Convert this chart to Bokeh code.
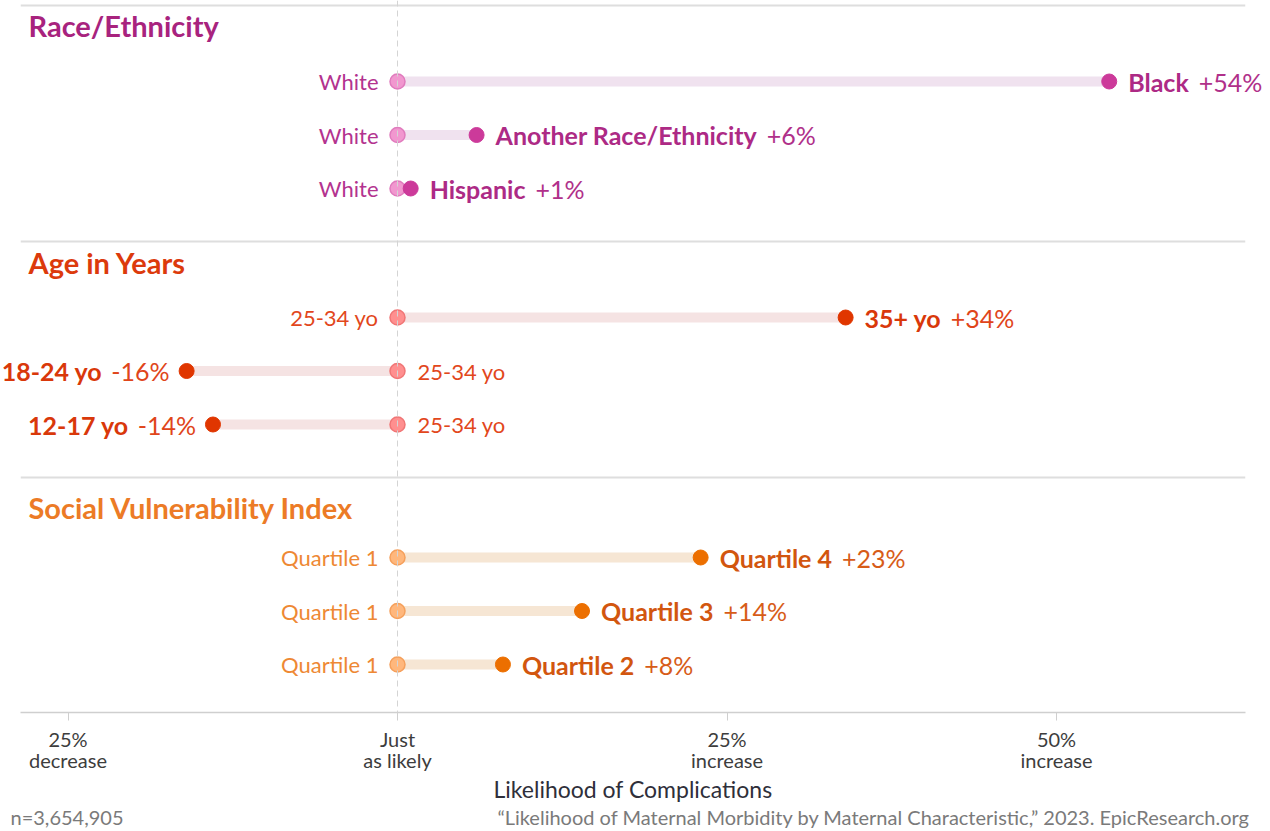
import glob
import subprocess

from bokeh.core.properties import value
from bokeh.embed import file_html
from bokeh.models import ColumnDataSource, FixedTicker, Label, Range1d, Span
from bokeh.plotting import figure
from bokeh.resources import INLINE

# ---------------- data ----------------
sections = ["Race/Ethnicity", "Age in Years", "Social Vulnerability Index"]

race_groups = ["Black", "Another Race/Ethnicity", "Hispanic"]
race_reference = ["White", "White", "White"]
race_change = [54, 6, 1]

age_groups = ["35+ yo", "18-24 yo", "12-17 yo"]
age_reference = ["25-34 yo", "25-34 yo", "25-34 yo"]
age_change = [34, -16, -14]

svi_groups = ["Quartile 4", "Quartile 3", "Quartile 2"]
svi_reference = ["Quartile 1", "Quartile 1", "Quartile 1"]
svi_change = [23, 14, 8]

tick_values = [-25, 0, 25, 50]
tick_labels = ["25%\ndecrease", "Just\nas likely", "25%\nincrease", "50%\nincrease"]

x_axis_title = "Likelihood of Complications"
note_left = "n=3,654,905"
note_right = "\u201cLikelihood of Maternal Morbidity by Maternal Characteristic,\u201d 2023. EpicResearch.org"

# ---------------- styles ----------------
palettes = [
    dict(title="#a8237e", ref="#b3338f", name="#ad2a85", val="#b0308a",
         start_fill="#f197cf", start_line="#e07bbd", end="#cc3a9a", bar="#f0e2ef"),
    dict(title="#dc3a0c", ref="#e2471c", name="#d9380a", val="#e0451a",
         start_fill="#ff8f8f", start_line="#f07676", end="#e03600", bar="#f5e3e3"),
    dict(title="#ec7b26", ref="#ee8834", name="#d2560f", val="#d75c18",
         start_fill="#ffb77c", start_line="#f5a05c", end="#ec6f00", bar="#f6e6d4"),
]
FONT = "Lato"
REF_SIZE = 22
NAME_SIZE = 25
TITLE_SIZE = 29
NOTE_SIZE = 20
DOT_GAP = 19
NAME_GAP = 10

W, H = 1266, 830
BORDER_L, BORDER_R, BORDER_T = 20, 21, 0
Y_TOP, Y_BOTTOM = 0, 712
BORDER_B = H - (Y_BOTTOM - Y_TOP)
FRAME_W = W - BORDER_L - BORDER_R
PX_PER_UNIT = 13.18
X0_PX = 377  # position of zero from frame left
x_start = -X0_PX / PX_PER_UNIT
x_end = x_start + FRAME_W / PX_PER_UNIT

# vertical layout (pixel-like units from top of page)
SECTION_H = 236
SECTION_TOP = 5
TITLE_OFF = [20, 21, 30]
ROW_OFF = [76, 76, 80]
ROW_STEP = 53.5
NOTE_Y = 816


def find_font(bold):
    name = "Lato:bold" if bold else "Lato:regular"
    try:
        out = subprocess.run(["fc-match", "-f", "%{file}", name],
                             capture_output=True, text=True, timeout=5).stdout.strip()
        if out and "lato" in out.lower():
            return out
    except Exception:
        pass
    pat = "Lato-Bold.ttf" if bold else "Lato-Regular.ttf"
    hits = glob.glob("/usr/share/fonts/**/" + pat, recursive=True)
    return hits[0] if hits else None


_font_cache = {}


def text_width(txt, size, bold):
    key = (size, bold)
    if key not in _font_cache:
        f = None
        try:
            from PIL import ImageFont
            path = find_font(bold)
            if path:
                f = ImageFont.truetype(path, size)
        except Exception:
            f = None
        _font_cache[key] = f
    f = _font_cache[key]
    if f is None:
        return len(txt) * size * (0.56 if bold else 0.52)
    return f.getlength(txt)


def fmt(v):
    return ("+" if v >= 0 else "-") + f"{abs(v)}%"


p = figure(width=W, height=H, output_backend="svg", toolbar_location=None,
           x_range=Range1d(x_start, x_end), y_range=Range1d(Y_BOTTOM, Y_TOP),
           y_axis_location=None, min_border_left=BORDER_L, min_border_right=BORDER_R,
           min_border_top=BORDER_T, min_border_bottom=BORDER_B,
           background_fill_color="white", border_fill_color="white")
p.outline_line_color = None
p.xgrid.visible = False
p.ygrid.visible = False

# separators
for k in range(len(sections)):
    yb = SECTION_TOP + SECTION_H * k
    p.add_layout(Span(location=yb, dimension="width", line_color="#dedede", line_width=2))
# zero line
p.add_layout(Span(location=0, dimension="height", line_color="#d4d4d4",
                  line_width=1, line_dash="6 4"))

all_groups = [race_groups, age_groups, svi_groups]
all_refs = [race_reference, age_reference, svi_reference]
all_changes = [race_change, age_change, svi_change]

for k, title in enumerate(sections):
    pal = palettes[k]
    base = SECTION_TOP + SECTION_H * k
    p.add_layout(Label(x=8, x_units="screen", y=base + TITLE_OFF[k], text=title,
                       text_font=FONT, text_font_size=f"{TITLE_SIZE}px", text_font_style="bold",
                       text_color=pal["title"], text_baseline="middle", text_align="left"))
    groups, refs, changes = all_groups[k], all_refs[k], all_changes[k]
    ys = [base + ROW_OFF[k] + ROW_STEP * r for r in range(len(groups))]
    zeros = [0] * len(groups)

    src = ColumnDataSource(dict(x0=zeros, x1=changes, y=ys))
    p.segment(x0="x0", y0="y", x1="x1", y1="y", source=src,
              line_color=pal["bar"], line_width=10, line_cap="butt")
    p.scatter(x="x0", y="y", source=src, size=15, fill_color=pal["start_fill"],
              line_color=pal["start_line"], line_width=1.5)
    p.scatter(x="x1", y="y", source=src, size=15, fill_color=pal["end"],
              line_color=pal["end"], line_width=1)

    ref_d = dict(x=[], y=[], text=[], off=[], align=[])
    name_d = dict(x=[], y=[], text=[], off=[], align=[])
    val_d = dict(x=[], y=[], text=[], off=[], align=[])
    for g, rf, c, y in zip(groups, refs, changes, ys):
        vt = fmt(c)
        if c >= 0:
            ref_d["x"].append(0); ref_d["y"].append(y); ref_d["text"].append(rf)
            ref_d["off"].append(-DOT_GAP); ref_d["align"].append("right")
            name_d["x"].append(c); name_d["y"].append(y); name_d["text"].append(g)
            name_d["off"].append(DOT_GAP); name_d["align"].append("left")
            val_d["x"].append(c); val_d["y"].append(y); val_d["text"].append(vt)
            val_d["off"].append(DOT_GAP + text_width(g, NAME_SIZE, True) + NAME_GAP)
            val_d["align"].append("left")
        else:
            ref_d["x"].append(0); ref_d["y"].append(y); ref_d["text"].append(rf)
            ref_d["off"].append(DOT_GAP + 1); ref_d["align"].append("left")
            val_d["x"].append(c); val_d["y"].append(y); val_d["text"].append(vt)
            val_d["off"].append(-DOT_GAP + 2); val_d["align"].append("right")
            name_d["x"].append(c); name_d["y"].append(y); name_d["text"].append(g)
            name_d["off"].append(-(DOT_GAP - 2 + text_width(vt, NAME_SIZE, False) + NAME_GAP - 1))
            name_d["align"].append("right")

    for d, size, style, color in [(ref_d, REF_SIZE, "normal", pal["ref"]),
                                  (name_d, NAME_SIZE, "bold", pal["name"]),
                                  (val_d, NAME_SIZE, "normal", pal["val"])]:
        r = p.text(x="x", y="y", text="text", x_offset="off", text_align="align",
                   source=ColumnDataSource(d), text_font=value(FONT),
                   text_font_size=f"{size}px", text_font_style=style,
                   text_color=color, text_baseline="middle")
        r.level = "overlay"

# x axis
ax = p.xaxis[0]
ax.ticker = FixedTicker(ticks=tick_values)
ax.major_label_overrides = {v: lab for v, lab in zip(tick_values, tick_labels)}
ax.axis_line_color = "#cfcfcf"
ax.axis_line_width = 1.5
ax.major_tick_line_color = "#cfcfcf"
ax.major_tick_out = 8
ax.major_tick_in = 0
ax.minor_tick_line_color = None
ax.major_label_standoff = 6
ax.major_label_text_font = FONT
ax.major_label_text_font_size = "20px"
ax.major_label_text_line_height = 0.9
ax.major_label_text_color = "#3d3d3d"
ax.axis_label = x_axis_title
ax.axis_label_text_font = FONT
ax.axis_label_text_font_size = "23px"
ax.axis_label_text_font_style = "normal"
ax.axis_label_text_color = "#2f2f3a"
ax.axis_label_standoff = 0

# footnotes (text glyphs outside the frame, drawn at overlay level so not clipped)
notes = ColumnDataSource(dict(
    x=[x_start, x_end], y=[NOTE_Y, NOTE_Y], text=[note_left, note_right],
    off=[-10, 5], align=["left", "right"]))
nr = p.text(x="x", y="y", text="text", x_offset="off", text_align="align", source=notes,
            text_font=value(FONT), text_font_size=f"{NOTE_SIZE}px", text_color="#7a7a7a",
            text_baseline="middle")
nr.level = "overlay"

open("out.html", "w").write(file_html(p, INLINE))
